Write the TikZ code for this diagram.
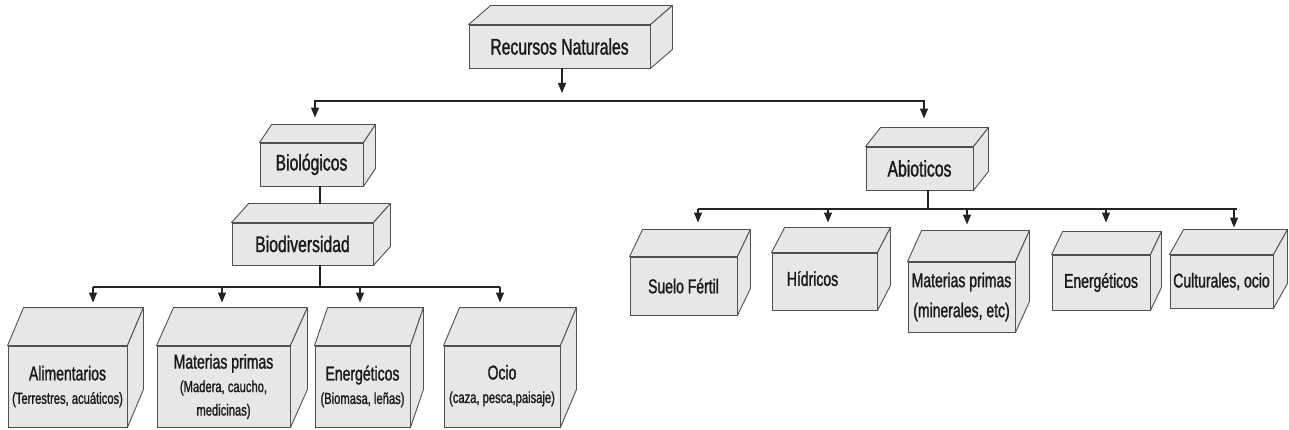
\documentclass[tikz,border=0pt]{standalone}
\usepackage{fontspec}
\setmainfont{Liberation Sans}[FakeStretch=0.7,FakeBold=1.2]
\usepackage{tikz}
\usetikzlibrary{arrows.meta, positioning, calc}
\definecolor{cajagris}{RGB}{231,231,231}
\definecolor{bordegris}{RGB}{80,80,80}
\definecolor{lineagris}{RGB}{35,35,35}
\definecolor{textogris}{RGB}{25,25,25}
\tikzset{
  caja/.style 2 args={rectangle,draw=bordegris,fill=cajagris,line width=0.9pt,align=center,
    inner sep=1pt,text=textogris,minimum width=#1,minimum height=#2},
  cara/.style={draw=bordegris,fill=cajagris,line width=0.9pt,line join=round},
  grande/.style={font=\fontsize{22.5}{26}\selectfont},
  media/.style={font=\fontsize{20}{24}\selectfont},
  chica/.style={font=\fontsize{16}{23.5}\selectfont},
  flecha/.style={-{Triangle[length=10pt,width=8pt]},line width=1.2pt,color=lineagris},
  dobleflecha/.style={{Triangle[length=10pt,width=8pt]}-{Triangle[length=10pt,width=8pt]},line width=1.2pt,color=lineagris},
  linea/.style={line width=1.2pt,color=lineagris}
}
\newcommand{\titulo}[1]{{\fontsize{20}{23.5}\selectfont #1}}

\begin{document}
\begin{tikzpicture}[x=1pt,y=-1pt]
  \useasboundingbox (0,0) rectangle (1289,430);

  %% Cajas
  \node[caja={181pt}{43pt},grande] (recursos) at (559.5,46.5) {Recursos Naturales};
  \node[caja={103pt}{43pt},grande] (biol) at (311.5,164.5) {Biológicos};
  \node[caja={141pt}{42pt},grande] (biodiv) at (302.5,244) {Biodiversidad};
  \node[caja={107pt}{43pt},grande] (abio) at (919.5,168.5) {Abioticos};

  \node[caja={119pt}{81pt},chica] (alim) at (67.5,386.5) {\titulo{Alimentarios}\\(Terrestres, acuáticos)};
  \node[caja={133pt}{81pt},chica] (matbio) at (223.5,386.5) {\titulo{Materias primas}\\(Madera, caucho,\\medicinas)};
  \node[caja={95pt}{81pt},chica] (enerbio) at (362.5,386.5) {\titulo{Energéticos}\\(Biomasa, leñas)};
  \node[caja={116pt}{81pt},chica] (ocio) at (502,386.5)
    {\raisebox{6pt}{\begin{tabular}{@{}c@{}}\titulo{Ocio}\\(caza, pesca,paisaje)\end{tabular}}};

  \node[caja={107pt}{58pt},media] (suelo) at (683.5,286) {Suelo Fértil};
  \node[caja={105pt}{57pt},media] (hidricos) at (824.5,281.5) {\raisebox{6pt}{Hídricos}\hspace*{24pt}};
  \node[caja={107pt}{70pt},media,font=\fontsize{20}{30}\selectfont] (matabio) at (961.5,297) {Materias primas\\(minerales, etc)};
  \node[caja={98pt}{55pt},media] (enerabio) at (1101,282.5) {Energéticos};
  \node[caja={103pt}{53pt},media] (cult) at (1221.5,281.5) {Culturales, ocio};

  %% Caras superiores y laterales
  \foreach \n/\dx/\dy in {recursos/22/19,biol/12/18,biodiv/17/19,abio/15/19,
      alim/16/38,matbio/17/38,enerbio/13/38,ocio/16/38,
      suelo/13/27,hidricos/13/25,matabio/14/31,enerabio/11/23,cult/14/25} {
    \draw[cara] (\n.north west) -- ++(\dx,-\dy) -- ($(\n.north east)+(\dx,-\dy)$) -- (\n.north east) -- cycle;
    \draw[cara] (\n.north east) -- ++(\dx,-\dy) -- ($(\n.south east)+(\dx,-\dy)$) -- (\n.south east) -- cycle;
  }

  %% Conectores
  \coordinate (baja) at (562,93);
  \coordinate (bus1) at (315,101);
  \coordinate (bus2) at (924,101);
  \draw[flecha] (recursos.south -| baja) -- (baja);
  \draw[dobleflecha] ([yshift=25pt]biol.north -| bus1) -- (bus1) -- (bus2) -- ([yshift=28pt]abio.north -| bus2);

  \coordinate (eje) at (320,287);
  \draw[linea] (biol.south -| eje) -- ([yshift=19pt]biodiv.north -| eje);
  \draw[linea] (biodiv.south -| eje) -- (eje);
  \draw[linea] ([xshift=25.5pt]alim.north |- eje) -- ([xshift=-2pt]ocio.north |- eje);
  \foreach \n/\dx in {alim/25.5,matbio/-1.5,enerbio/-2.5,ocio/-2}
    \draw[flecha] ([xshift=\dx pt]\n.north |- eje) -- ([xshift=\dx pt,yshift=43pt]\n.north);

  \coordinate (eje2) at (928,209);
  \draw[linea] (abio.south -| eje2) -- (eje2);
  \draw[linea] ([xshift=14.5pt]suelo.north |- eje2) -- ([xshift=15.5pt]cult.north |- eje2);
  \foreach \n/\dx/\dy in {suelo/14.5/34,hidricos/3.5/30,matabio/5.5/37,enerabio/5/32,cult/12.5/27}
    \draw[flecha] ([xshift=\dx pt]\n.north |- eje2) -- ([xshift=\dx pt,yshift=\dy pt]\n.north);
\end{tikzpicture}
\end{document}
